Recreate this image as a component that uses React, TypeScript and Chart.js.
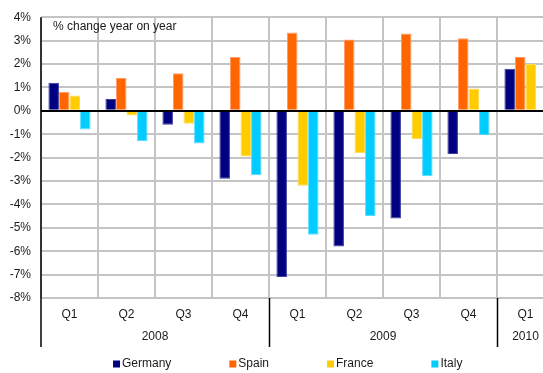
import React, { useEffect, useRef } from "react";
import { Chart, registerables } from "chart.js";

Chart.register(...registerables);

// Quarterly GDP growth, % change year on year
const quarters = ["Q1", "Q2", "Q3", "Q4", "Q1", "Q2", "Q3", "Q4", "Q1"];
const years = ["2008", "2009", "2010"];
const quartersPerYear = [4, 4, 1];

const germany = [1.2, 0.5, -0.6, -2.9, -7.1, -5.8, -4.6, -1.85, 1.8];
const spain = [0.8, 1.4, 1.6, 2.3, 3.35, 3.05, 3.3, 3.1, 2.3];
const france = [0.65, -0.2, -0.55, -1.95, -3.2, -1.8, -1.2, 0.95, 2.0];
const italy = [-0.8, -1.3, -1.4, -2.75, -5.3, -4.5, -2.8, -1.05, null];

const yTicks = [4, 3, 2, 1, 0, -1, -2, -3, -4, -5, -6, -7, -8];

const seriesNames = ["Germany", "Spain", "France", "Italy"];
const seriesColors = ["#000080", "#ff6600", "#ffcc00", "#00ccff"];
const seriesEdges = ["#3c3c9c", "#ff9a66", "#ffdc55", "#5cdcff"];

const FONT = "'Liberation Sans', Arial, Helvetica, sans-serif";
const TEXT = "#1a1a1a";

const decorations = {
  id: "decorations",
  afterDatasetsDraw(chart: any) {
    const { ctx, chartArea, scales } = chart;
    const x = scales.x;
    const y = scales.y;
    const half = (x.getPixelForValue(1) - x.getPixelForValue(0)) / 2;
    const groupBottom = chartArea.bottom + 49;

    ctx.save();
    // zero line across the bars
    const y0 = Math.round(y.getPixelForValue(0));
    ctx.strokeStyle = "#000";
    ctx.lineWidth = 2;
    ctx.beginPath();
    ctx.moveTo(chartArea.left, y0);
    ctx.lineTo(chartArea.right, y0);
    ctx.stroke();

    // value axis line, extended into the category block
    ctx.lineWidth = 1.5;
    ctx.beginPath();
    ctx.moveTo(chartArea.left, chartArea.top);
    ctx.lineTo(chartArea.left, groupBottom);
    ctx.stroke();

    // year groups
    ctx.fillStyle = TEXT;
    ctx.font = `12px ${FONT}`;
    ctx.textAlign = "center";
    ctx.textBaseline = "middle";
    let idx = 0;
    years.forEach((yr, i) => {
      const span = quartersPerYear[i];
      const left = x.getPixelForValue(idx) - half;
      const right = x.getPixelForValue(idx + span - 1) + half;
      ctx.beginPath();
      ctx.moveTo(Math.round(right) + 0.5, chartArea.bottom);
      ctx.lineTo(Math.round(right) + 0.5, groupBottom);
      ctx.stroke();
      ctx.fillText(yr, (left + right) / 2, chartArea.bottom + 39);
      idx += span;
    });

    // note in the top-left corner
    ctx.textAlign = "left";
    ctx.fillText("% change year on year", chartArea.left + 12, chartArea.top + 9);

    // legend
    let lx = 113;
    const ly = 364;
    chart.data.datasets.forEach((ds: any) => {
      ctx.fillStyle = ds.backgroundColor;
      ctx.fillRect(lx, ly - 3.5, 7, 7);
      ctx.fillStyle = TEXT;
      ctx.fillText(ds.label, lx + 9, ly);
      lx += 9 + ctx.measureText(ds.label).width + 58;
    });
    ctx.restore();
  },
};

export default function App() {
  const ref = useRef<HTMLCanvasElement>(null);

  useEffect(() => {
    if (!ref.current) return;
    Chart.defaults.font.family = FONT;
    Chart.defaults.font.size = 12;
    Chart.defaults.color = TEXT;
    const values = [germany, spain, france, italy];
    const chart = new Chart(ref.current, {
      type: "bar",
      data: {
        labels: quarters,
        datasets: values.map((v, i) => ({
          label: seriesNames[i],
          data: v,
          backgroundColor: seriesColors[i],
          borderColor: seriesEdges[i],
          borderWidth: 1,
          categoryPercentage: 0.74,
          barPercentage: 1,
        })),
      },
      options: {
        animation: false,
        responsive: false,
        devicePixelRatio: 1,
        layout: { padding: { left: 0, top: 17, right: 2, bottom: 0 } },
        plugins: { legend: { display: false }, tooltip: { enabled: false } },
        scales: {
          x: {
            offset: true,
            grid: { offset: true, color: "#c4c4c4", lineWidth: 2, drawTicks: false },
            border: { display: false },
            ticks: { padding: 9, color: TEXT, font: { size: 12 } },
            afterFit: (s: any) => {
              s.height = 75;
            },
          },
          y: {
            min: -8,
            max: 4,
            afterBuildTicks: (s: any) => {
              s.ticks = yTicks.map((v) => ({ value: v }));
            },
            grid: { color: "#c4c4c4", lineWidth: 2, drawTicks: false },
            border: { display: false },
            ticks: {
              padding: 10,
              color: TEXT,
              font: { size: 12 },
              callback: (v: any) => `${v}%`,
            },
            afterFit: (s: any) => {
              s.width = 41;
            },
          },
        },
      },
      plugins: [decorations],
    });
    return () => chart.destroy();
  }, []);

  return (
    <div
      style={{
        position: "fixed",
        left: 0,
        top: 0,
        width: 543,
        height: 373,
        overflow: "hidden",
        background: "#fff",
      }}
    >
      <canvas ref={ref} width={556} height={373} style={{ display: "block" }} />
    </div>
  );
}
